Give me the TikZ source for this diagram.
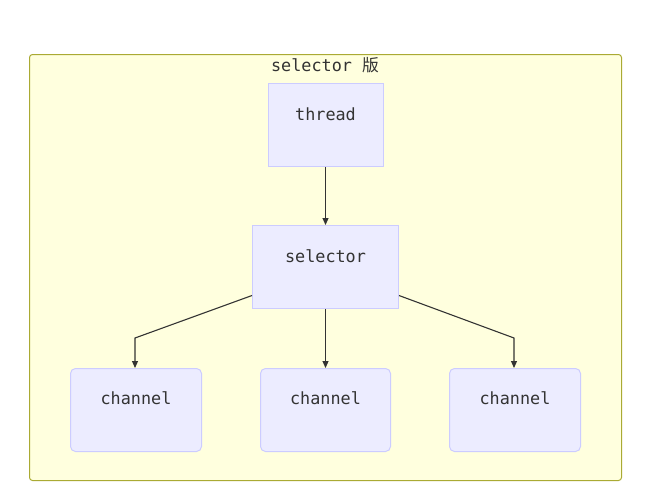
\documentclass[tikz,border=0pt]{standalone}
\usepackage{fontspec}
\setmonofont{DejaVu Sans Mono}
\newfontfamily\cjk{Noto Sans CJK SC}
\usetikzlibrary{arrows.meta}
\definecolor{clfill}{HTML}{FFFFDE}
\definecolor{clline}{HTML}{AAAA33}
\definecolor{ndfill}{HTML}{ECECFF}
\definecolor{ndline}{HTML}{CCCCFF}
\definecolor{txt}{HTML}{333333}
\tikzset{
  x=1pt, y=-1pt,
  box/.style={draw=ndline, fill=ndfill, line width=1pt, inner sep=0pt},
  lbl/.style={font=\ttfamily\fontsize{16.8}{19}\selectfont, text=txt, inner sep=0pt},
  conn/.style={draw=txt, line width=1.1pt, -{Triangle[length=7pt,width=6pt]}}
}
\begin{document}
\begin{tikzpicture}
\useasboundingbox (0,0) rectangle (652,496);
\node[draw=clline, fill=clfill, line width=1pt, rounded corners=3pt, minimum width=592pt, minimum height=426pt, anchor=north west] (cluster) at (29,54) {};
\node[lbl, anchor=center] (title) at (325,65) {selector {\cjk 版}};

\node[box, minimum width=115pt, minimum height=83pt, anchor=north west] (thread) at (267.5,83) {};
\node[box, minimum width=146pt, minimum height=83pt, anchor=north west] (selector) at (252,225) {};
\node[box, rounded corners=5pt, minimum width=131pt, minimum height=83pt, anchor=north west] (ch1) at (70,368) {};
\node[box, rounded corners=5pt, minimum width=130pt, minimum height=83pt, anchor=north west] (ch2) at (260,368) {};
\node[box, rounded corners=5pt, minimum width=131pt, minimum height=83pt, anchor=north west] (ch3) at (449,368) {};

\node[lbl] (tthread) at ([yshift=-31pt]thread.north) {thread};
\node[lbl] (tselector) at ([yshift=-31pt]selector.north) {selector};
\node[lbl] (tch1) at ([yshift=-30pt]ch1.north) {channel};
\node[lbl] (tch2) at ([yshift=-30pt]ch2.north) {channel};
\node[lbl] (tch3) at ([yshift=-30pt]ch3.north) {channel};

\coordinate (bl) at (135,338);
\coordinate (br) at (514,338);
\draw[conn] (thread.south) -- (selector.north);
\draw[conn] (selector.south) -- (ch2.north);
\draw[conn] ([yshift=-28.5pt]selector.west) -- (bl) -- (ch1.north -| bl);
\draw[conn] ([yshift=-28.5pt]selector.east) -- (br) -- (ch3.north -| br);
\end{tikzpicture}
\end{document}
